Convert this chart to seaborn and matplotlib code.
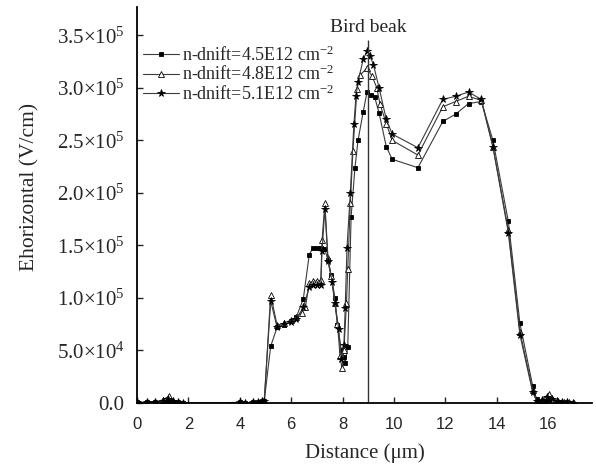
import numpy as np
import pandas as pd
import matplotlib
matplotlib.use('Agg')
import matplotlib.pyplot as plt
import seaborn as sns

# distance (um) and Ehorizontal (units of 1e5 V/cm)
x_a = [0.0, 0.4, 0.7, 1.0, 1.2, 1.4, 1.6, 1.8, 4.0, 4.2, 4.5, 4.7, 4.85, 4.95,
       5.2, 5.45, 5.7, 6.0, 6.2, 6.47, 6.7, 6.85, 7.0, 7.15, 7.3, 7.43, 7.55,
       7.7, 7.8, 7.95, 8.05, 8.1, 8.2, 8.33, 8.48, 8.6, 8.8, 8.95, 9.1, 9.25,
       9.42, 9.7, 9.93, 10.93, 11.9, 12.4, 12.9, 13.4, 13.85, 14.45, 14.9,
       15.4, 15.55, 15.7, 15.9, 16.1, 16.3, 16.5, 16.7, 16.9]
y_a = [0.005, 0.005, 0.01, 0.01, 0.015, 0.01, 0.005, 0.0, 0.005, 0.0, 0.005,
       0.01, 0.015, 0.02, 0.54, 0.72, 0.74, 0.78, 0.82, 0.99, 1.41, 1.48,
       1.48, 1.48, 1.47, 1.36, 1.22, 1.0, 0.74, 0.5, 0.44, 0.38, 0.53, 1.77,
       2.24, 2.5, 2.77, 2.96, 2.93, 2.91, 2.76, 2.44, 2.32, 2.24, 2.68, 2.75,
       2.85, 2.87, 2.5, 1.73, 0.76, 0.16, 0.04, 0.01, 0.02, 0.03, 0.01, 0.01,
       0.005, 0.0]

x_b = [0.0, 0.4, 0.7, 1.0, 1.25, 1.4, 1.6, 1.8, 4.0, 4.2, 4.5, 4.7, 4.85, 4.95,
       5.2, 5.45, 5.7, 6.0, 6.2, 6.4, 6.55, 6.7, 6.85, 7.0, 7.15, 7.2, 7.31,
       7.43, 7.55, 7.7, 7.8, 7.9, 7.97, 8.05, 8.15, 8.2, 8.3, 8.4, 8.56, 8.68,
       8.95, 9.15, 9.33, 9.45, 9.7, 9.93, 10.93, 11.9, 12.4, 12.9, 13.4, 13.85,
       14.45, 14.9, 15.4, 15.55, 15.75, 16.03, 16.2, 16.4, 16.6, 16.8, 17.0]
y_b = [0.005, 0.005, 0.01, 0.03, 0.067, 0.02, 0.01, 0.0, 0.005, 0.0, 0.005,
       0.01, 0.015, 0.02, 1.03, 0.74, 0.76, 0.79, 0.82, 0.86, 0.91, 1.14,
       1.16, 1.16, 1.17, 1.55, 1.9, 1.38, 1.21, 0.95, 0.75, 0.45, 0.33, 0.5,
       0.95, 1.28, 1.9, 2.4, 2.99, 3.12, 3.19, 3.11, 3.0, 2.85, 2.66, 2.5,
       2.36, 2.82, 2.87, 2.92, 2.88, 2.44, 1.65, 0.68, 0.12, 0.02, 0.03, 0.09,
       0.03, 0.02, 0.01, 0.005, 0.0]

x_c = [0.0, 0.4, 0.7, 1.0, 1.2, 1.4, 1.6, 1.8, 4.0, 4.2, 4.5, 4.7, 4.85, 4.95,
       5.2, 5.45, 5.7, 6.0, 6.2, 6.47, 6.7, 6.85, 7.0, 7.15, 7.2, 7.31, 7.43,
       7.6, 7.7, 7.85, 7.95, 8.05, 8.1, 8.17, 8.3, 8.44, 8.52, 8.6, 8.8, 8.95,
       9.07, 9.2, 9.42, 9.7, 9.93, 10.93, 11.9, 12.4, 12.9, 13.4, 13.85, 14.45,
       14.9, 15.4, 15.55, 15.75, 15.95, 16.15, 16.35, 16.55, 16.75, 16.95]
y_c = [0.005, 0.005, 0.01, 0.02, 0.035, 0.015, 0.01, 0.0, 0.005, 0.0, 0.005,
       0.01, 0.015, 0.02, 0.97, 0.72, 0.75, 0.77, 0.8, 0.91, 1.1, 1.12, 1.12,
       1.12, 1.45, 1.85, 1.35, 1.15, 0.95, 0.7, 0.42, 0.55, 0.9, 1.48, 2.0,
       2.66, 2.92, 3.06, 3.27, 3.35, 3.3, 3.22, 3.0, 2.7, 2.56, 2.43, 2.89,
       2.92, 2.96, 2.89, 2.44, 1.62, 0.65, 0.1, 0.02, 0.03, 0.06, 0.04, 0.02,
       0.01, 0.005, 0.0]

labels = ['n-dnift=4.5E12 cm$^{-2}$', 'n-dnift=4.8E12 cm$^{-2}$',
          'n-dnift=5.1E12 cm$^{-2}$']
xticks = [0, 2, 4, 6, 8, 10, 12, 14, 16]
yticks = [0.0, 0.5, 1.0, 1.5, 2.0, 2.5, 3.0, 3.5]
ytick_labels = ['0.0', r'5.0$\times$10$^4$', r'1.0$\times$10$^5$',
                r'1.5$\times$10$^5$', r'2.0$\times$10$^5$', r'2.5$\times$10$^5$',
                r'3.0$\times$10$^5$', r'3.5$\times$10$^5$']
beak_x = 9.0

sns.set_style('ticks')
plt.rcParams['font.family'] = ['Liberation Serif', 'DejaVu Serif']
plt.rcParams['mathtext.fontset'] = 'custom'
plt.rcParams['mathtext.rm'] = 'Liberation Serif'
plt.rcParams['mathtext.it'] = 'Liberation Serif:italic'

fig = plt.figure(figsize=(5.96, 4.71), dpi=100)
ax = fig.add_axes([0.23, 0.1444, 0.763, 0.8408])

scale = 1e5
series = [
    (x_a, y_a, 's', 'black', 3.5),
    (x_b, y_b, '^', 'white', 5),
    (x_c, y_c, '*', 'black', 5.5),
]
for (xs, ys, mk, fc, ms), lab in zip(series, labels):
    df = pd.DataFrame({'x': xs, 'y': np.array(ys) * scale})
    sns.lineplot(data=df, x='x', y='y', ax=ax, estimator=None, sort=False,
                 color='#3a3a3a', linewidth=0.8, marker=mk, markersize=ms,
                 markerfacecolor=fc, markeredgecolor='black',
                 markeredgewidth=0.6, label=lab)

ax.vlines(beak_x, 0, 3.46 * scale, color='#333333', linewidth=1.0)
ax.text(beak_x, 3.49 * scale, 'Bird beak', ha='center', va='bottom',
        fontsize=14)

ax.set_xlim(0, 17.7)
ax.set_ylim(0, 3.77 * scale)
ax.set_xticks(xticks)
ax.set_xticklabels([str(t) for t in xticks], family='Liberation Sans',
                   fontsize=12)
ax.set_yticks([t * scale for t in yticks])
ax.set_yticklabels(ytick_labels, fontsize=15)
ax.tick_params(direction='in', length=4, width=1)
ax.tick_params(axis='x', pad=10)
ax.tick_params(axis='y', pad=9)
ax.set_xlabel('Distance (μm)', fontsize=15, labelpad=8)
ax.set_ylabel('Ehorizontal (V/cm)', fontsize=15.5)
ax.yaxis.set_label_coords(-0.215, 0.545)

sns.despine(ax=ax)
for s in ['left', 'bottom']:
    ax.spines[s].set_linewidth(1.3)
    ax.spines[s].set_color('black')

ax.legend(loc='upper left', bbox_to_anchor=(-0.015, 0.935), frameon=False,
          fontsize=13, labelspacing=0.0, handlelength=2.0,
          handletextpad=0.15, borderaxespad=0.3, numpoints=1)

fig.savefig('out.png', dpi=100)
